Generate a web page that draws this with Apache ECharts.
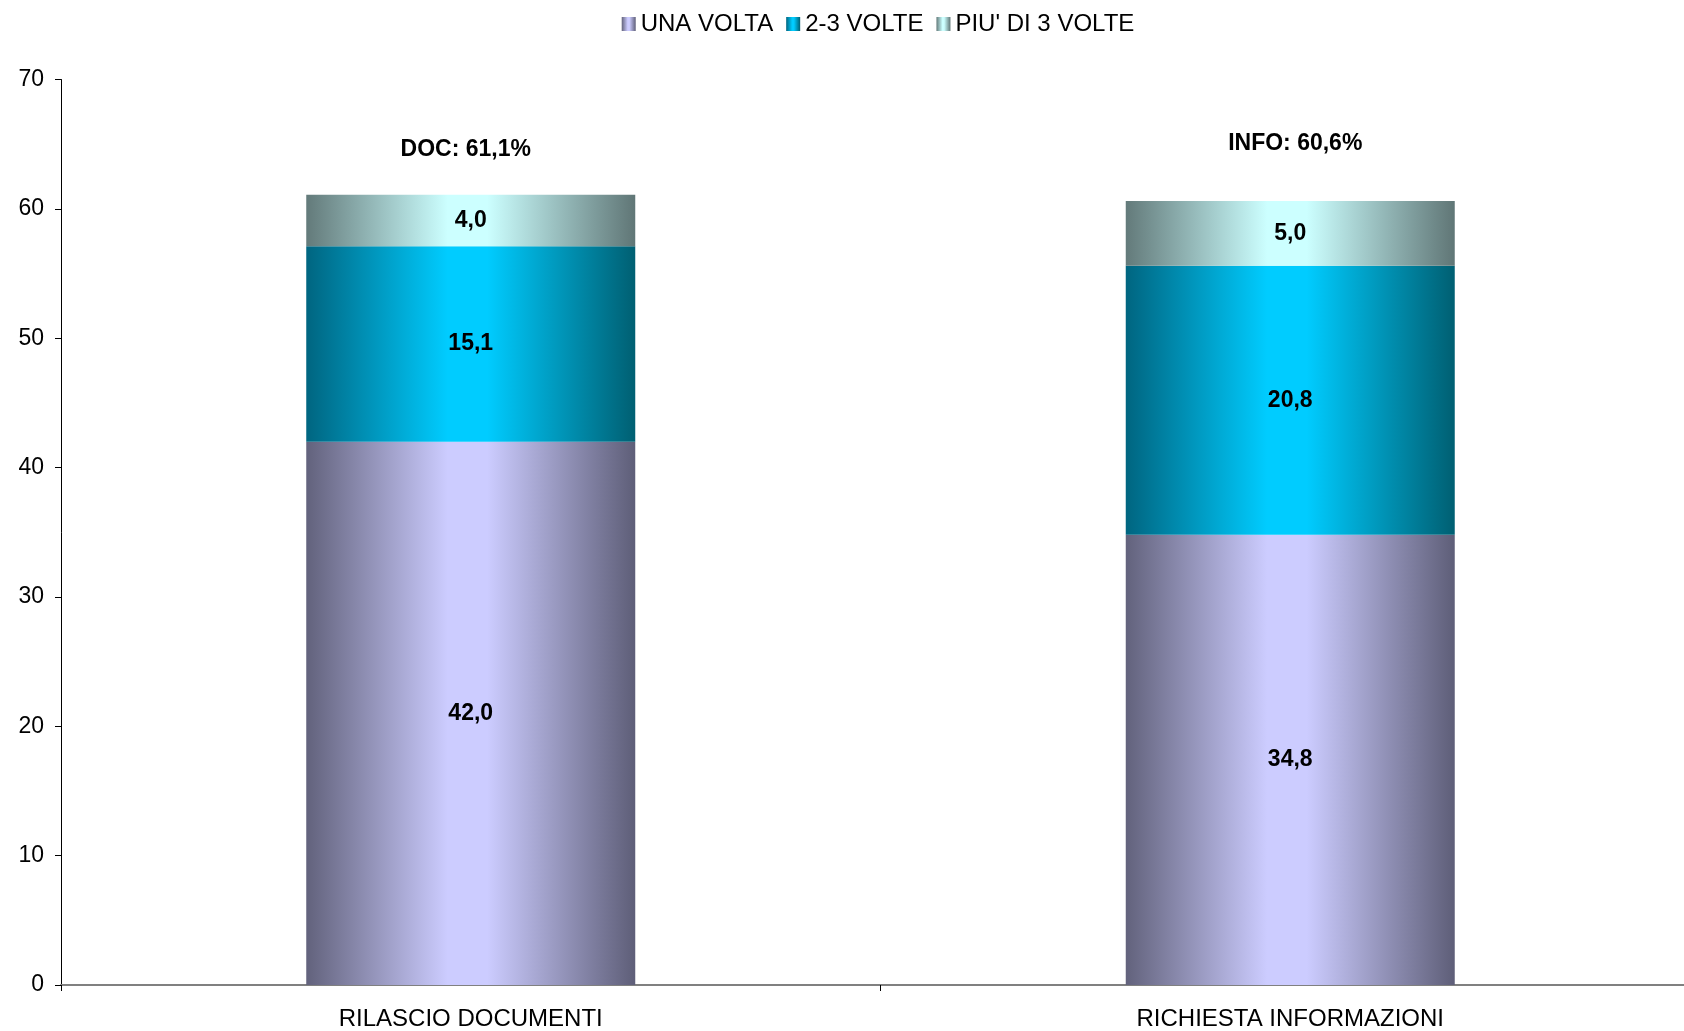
<!DOCTYPE html>
<html>
<head>
<meta charset="utf-8">
<script src="https://cdn.jsdelivr.net/npm/echarts@6/dist/echarts.min.js"></script>
<style>
  html, body { margin: 0; padding: 0; background: #fff; overflow: hidden; }
  /* the plot runs past the right edge of the window, so the canvas is wider */
  #chart { width: 1756px; height: 1031px; }
</style>
</head>
<body>
<div id="chart"></div>
<script>
// Categories and stacked values (percent)
const categories = ['RILASCIO DOCUMENTI', 'RICHIESTA INFORMAZIONI'];
const seriesNames = ['UNA VOLTA', '2-3 VOLTE', "PIU' DI 3 VOLTE"];
const unaVolta = [42.0, 34.8];
const dueTreVolte = [15.1, 20.8];
const piuDiTre = [4.0, 5.0];
const totalPrefix = ['DOC', 'INFO'];
const yTicks = [0, 10, 20, 30, 40, 50, 60, 70];

const FONT = 'Liberation Sans, Arial, sans-serif';

function fmt(v) {
  return v.toFixed(1).replace('.', ',');
}

// Horizontal shading: dark edges, light centre
function shade(edgeL, mid, edgeR) {
  return new echarts.graphic.LinearGradient(0, 0, 1, 0, [
    { offset: 0, color: edgeL },
    { offset: 0.43, color: mid },
    { offset: 0.55, color: mid },
    { offset: 1, color: edgeR }
  ]);
}

const colors = [
  shade('#62627c', '#ccccff', '#5e5e78'),
  shade('#006580', '#00ccff', '#005f72'),
  shade('#637a7a', '#ccffff', '#607676')
];

const totals = categories.map((c, i) => +(unaVolta[i] + dueTreVolte[i] + piuDiTre[i]).toFixed(1));
const totalGap = [33, 46];

const segLabel = {
  show: true,
  position: 'inside',
  color: '#000',
  fontFamily: FONT,
  fontWeight: 'bold',
  fontSize: 23,
  formatter: p => fmt(p.value)
};

const chart = echarts.init(document.getElementById('chart'), null, { renderer: 'canvas' });

chart.setOption({
  animation: false,
  backgroundColor: '#ffffff',
  legend: {
    top: 7,
    left: 'center',
    icon: 'rect',
    itemWidth: 14,
    itemHeight: 14,
    itemGap: 13,
    textStyle: { fontFamily: FONT, fontSize: 24, color: '#000' },
    data: seriesNames
  },
  grid: { left: 61, top: 79.5, width: 1639, height: 906.5, containLabel: false },
  xAxis: {
    type: 'category',
    data: categories,
    axisLine: { lineStyle: { color: '#808080', width: 2 } },
    axisTick: { show: true, length: 6, lineStyle: { color: '#000', width: 1 } },
    axisLabel: { fontFamily: FONT, fontSize: 24, color: '#000', margin: 22 }
  },
  yAxis: {
    type: 'value',
    min: 0,
    max: 70,
    interval: 10,
    axisLine: { show: true, lineStyle: { color: '#000', width: 1 } },
    axisTick: { show: true, length: 6, lineStyle: { color: '#000' } },
    splitLine: { show: false },
    axisLabel: {
      fontFamily: FONT, fontSize: 23, color: '#000', margin: 17,
      formatter: v => (yTicks.includes(v) ? String(v) : '')
    }
  },
  series: [
    {
      name: seriesNames[0], type: 'bar', stack: 'tot', barWidth: 329,
      itemStyle: { color: colors[0] }, label: segLabel, data: unaVolta
    },
    {
      name: seriesNames[1], type: 'bar', stack: 'tot', barWidth: 329,
      itemStyle: { color: colors[1] }, label: segLabel, data: dueTreVolte
    },
    {
      name: seriesNames[2], type: 'bar', stack: 'tot', barWidth: 329,
      itemStyle: { color: colors[2] }, label: segLabel, data: piuDiTre
    },
    {
      // totals printed above each bar
      name: 'totale', type: 'scatter', symbolSize: 0, silent: true,
      legendHoverLink: false,
      itemStyle: { color: '#000', opacity: 1 },
      data: totals.map((t, i) => ({
        value: t,
        label: {
          show: true, position: 'top', distance: totalGap[i],
          offset: [i === 0 ? -5 : 5, 0],
          color: '#000', fontFamily: FONT, fontWeight: 'bold', fontSize: 23,
          formatter: () => totalPrefix[i] + ': ' + fmt(t) + '%'
        }
      }))
    }
  ]
});
</script>
</body>
</html>
